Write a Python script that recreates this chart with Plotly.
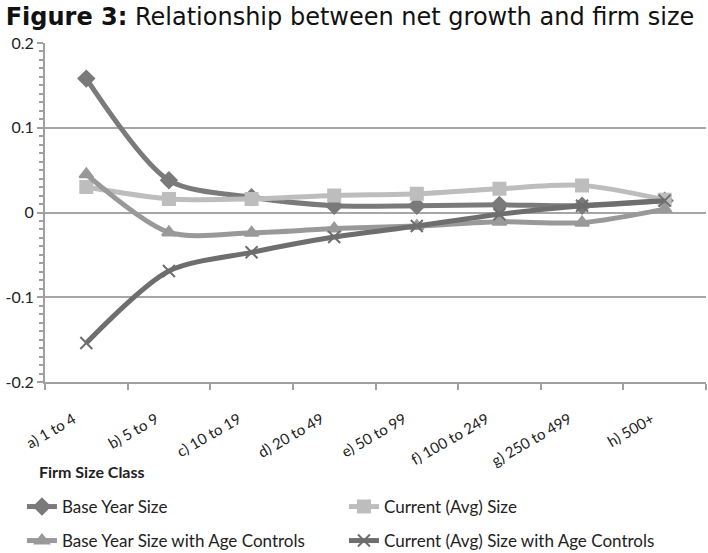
import plotly.graph_objects as go

categories = ["a) 1 to 4", "b) 5 to 9", "c) 10 to 19", "d) 20 to 49",
              "e) 50 to 99", "f) 100 to 249", "g) 250 to 499", "h) 500+"]
base_year = [0.158, 0.038, 0.018, 0.008, 0.008, 0.009, 0.008, 0.014]
current_avg = [0.030, 0.016, 0.016, 0.020, 0.022, 0.028, 0.032, 0.015]
base_year_age = [0.045, -0.0235, -0.024, -0.019, -0.016, -0.011, -0.012, 0.004]
current_avg_age = [-0.154, -0.069, -0.047, -0.029, -0.016, -0.002, 0.008, 0.014]
y_ticks = [-0.2, -0.1, 0, 0.1, 0.2]
y_tick_labels = ["-0.2", "-0.1", "0", "0.1", "0.2"]

LBL = "Lato, Open Sans, Arial, sans-serif"

series = [
    ("Base Year Size", base_year, "#7a7a7a", "diamond", "legend"),
    ("Current (Avg) Size", current_avg, "#bdbdbd", "square", "legend"),
    ("Base Year Size with Age Controls", base_year_age, "#999999", "triangle-up", "legend2"),
    ("Current (Avg) Size with Age Controls", current_avg_age, "#6e6e6e", "x-thin", "legend2"),
]

fig = go.Figure()
for name, vals, col, sym, leg in series:
    fig.add_trace(go.Scatter(
        x=categories, y=vals, name=name, mode="lines+markers",
        line=dict(color=col, width=5, shape="spline", smoothing=0.8),
        marker=dict(symbol=sym, size=12, color=col,
                    line=dict(color=col, width=2)),
        legend=leg,
    ))

legend_common = dict(orientation="h", xref="container", yref="container",
                     x=0.031, xanchor="left", yanchor="middle",
                     entrywidth=277, font=dict(family=LBL, size=17, color="#222"),
                     itemwidth=30, bgcolor="rgba(0,0,0,0)")

PL, PR, PT, PB = 45, 706, 43, 382
fig.update_layout(
    width=708, height=553,
    margin=dict(l=PL, r=708 - PR, t=PT, b=553 - PB, autoexpand=False),
    paper_bgcolor="white", plot_bgcolor="white",
    font=dict(family=LBL, size=15, color="#222"),
    showlegend=True,
    legend=dict(legend_common, y=1 - 507 / 553),
    legend2=dict(legend_common, y=1 - 541 / 553),
    title=dict(text="<b>Figure 3:</b> Relationship between net growth and firm size",
               x=0.008, xanchor="left", y=1 - 17 / 553, yanchor="middle",
               xref="container", yref="container",
               font=dict(family="DejaVu Sans, Verdana, sans-serif", size=24, color="#111")),
    xaxis=dict(type="category", tickangle=-30, tickson="boundaries",
               ticks="outside", ticklen=6, tickcolor="#a0a0a0", tickwidth=2,
               showline=True, linecolor="#a0a0a0", linewidth=2,
               showgrid=False, range=[-0.5, 7.5], automargin=False,
               ticklabelshift=-13, ticklabelstandoff=21,
               tickfont=dict(family=LBL, size=15, color="#222")),
    yaxis=dict(range=[-0.2, 0.2], tickvals=y_ticks, ticktext=y_tick_labels,
               showgrid=True, gridcolor="#a6a6a6", gridwidth=2,
               zeroline=False, showline=True, linecolor="#a0a0a0", linewidth=2,
               ticks="outside", ticklen=6, tickcolor="#a0a0a0", tickwidth=2,
               automargin=False,
               minor=dict(dtick=0.01, ticks="outside", ticklen=4,
                          tickcolor="#a0a0a0", tickwidth=1.5, showgrid=False),
               tickfont=dict(family=LBL, size=16, color="#222")),
    annotations=[dict(text="<b>Firm Size Class</b>", xref="paper", yref="paper",
                      x=(37 - PL) / (PR - PL), y=(PB - 471) / (PB - PT),
                      xanchor="left", yanchor="middle", showarrow=False,
                      font=dict(family=LBL, size=16, color="#222"))],
)

fig.write_html("out.html", post_script="document.body.style.margin='0';",
               config={"displayModeBar": False})
